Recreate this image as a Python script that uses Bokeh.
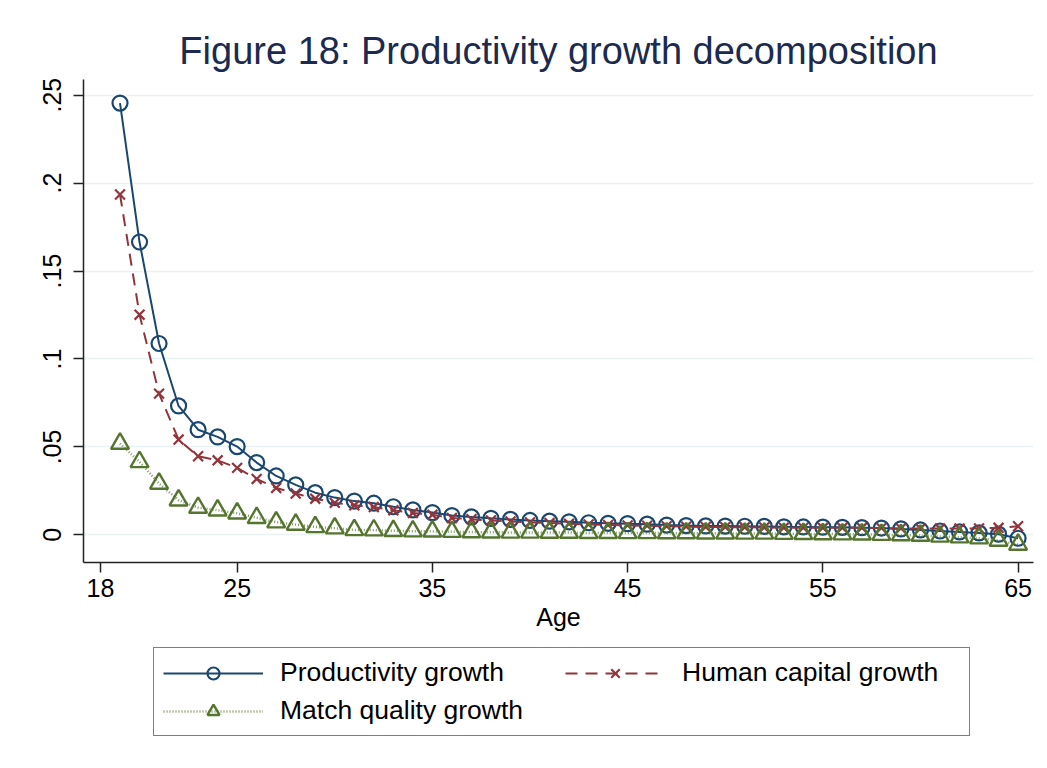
from bokeh.plotting import figure
from bokeh.layouts import column
from bokeh.models import Range1d, FixedTicker, Legend, LegendItem, CustomJSTickFormatter
from bokeh.embed import file_html
from bokeh.resources import INLINE

ages = list(range(19, 66))

productivity = [0.2455, 0.1665, 0.1088, 0.0733, 0.0598, 0.0557, 0.0502, 0.0411, 0.0335, 0.0284,
                0.0240, 0.0212, 0.0192, 0.0180, 0.0160, 0.0142, 0.0127, 0.0110, 0.0102, 0.0094,
                0.0088, 0.0082, 0.0078, 0.0074, 0.0069, 0.0066, 0.0064, 0.0061, 0.0056, 0.0053,
                0.0051, 0.0050, 0.0049, 0.0048, 0.0046, 0.0045, 0.0044, 0.0043, 0.0041, 0.0039,
                0.0034, 0.0028, 0.0022, 0.0017, 0.0011, 0.0004, -0.0019]

human_capital = [0.1935, 0.1252, 0.0803, 0.0542, 0.0447, 0.0424, 0.0381, 0.0318, 0.0267, 0.0235,
                 0.0206, 0.0182, 0.0168, 0.0158, 0.0140, 0.0125, 0.0114, 0.0096, 0.0089, 0.0082,
                 0.0076, 0.0071, 0.0067, 0.0063, 0.0059, 0.0056, 0.0054, 0.0052, 0.0049, 0.0047,
                 0.0045, 0.0044, 0.0043, 0.0042, 0.0041, 0.0041, 0.0040, 0.0040, 0.0040, 0.0039,
                 0.0037, 0.0036, 0.0036, 0.0036, 0.0037, 0.0040, 0.0049]

match_quality = [0.0519, 0.0415, 0.0292, 0.0197, 0.0155, 0.0140, 0.0123, 0.0097, 0.0072, 0.0059,
                 0.0045, 0.0038, 0.0028, 0.0027, 0.0023, 0.0021, 0.0020, 0.0018, 0.0016, 0.0015,
                 0.0014, 0.0014, 0.0013, 0.0013, 0.0012, 0.0012, 0.0011, 0.0011, 0.0010, 0.0010,
                 0.0009, 0.0009, 0.0008, 0.0008, 0.0007, 0.0006, 0.0005, 0.0004, 0.0003, 0.0001,
                 -0.0001, -0.0004, -0.0009, -0.0013, -0.0019, -0.0032, -0.0055]

x_ticks = [18, 25, 35, 45, 55, 65]
y_ticks = [0, 0.05, 0.1, 0.15, 0.2, 0.25]
y_tick_labels = ["0", ".05", ".1", ".15", ".2", ".25"]

series_labels = ["Productivity growth", "Human capital growth", "Match quality growth"]
title_text = "Figure 18: Productivity growth decomposition"
x_label = "Age"

BLUE = "#1a476f"
RED = "#90353b"
GREEN = "#55752f"
FONT = "Liberation Sans"

blue_style = dict(line_color=BLUE, line_width=2)
blue_mark = dict(marker="circle", size=15, fill_color=None, line_color=BLUE, line_width=2.2)
red_style = dict(line_color=RED, line_width=2, line_dash="12 8")
red_mark = dict(marker="x", size=14, line_color=RED, line_width=2.2)
green_style = dict(line_color=GREEN, line_width=2.5, line_dash="1 2", line_alpha=0.75)
green_mark = dict(marker="triangle", size=18, fill_color=None, line_color=GREEN, line_width=2.4)

p = figure(frame_width=950, frame_height=483, output_backend="svg", toolbar_location=None,
           x_range=Range1d(17.13, 65.79), y_range=Range1d(-0.0157, 0.2589),
           min_border_left=83, min_border_right=12, min_border_top=79, min_border_bottom=76)
p.background_fill_color = "white"
p.border_fill_color = "white"
p.outline_line_color = None

p.title.text = title_text
p.title.align = "center"
p.title.offset = -4
p.title.text_font = FONT
p.title.text_font_size = "38px"
p.title.text_font_style = "normal"
p.title.text_color = "#1c2a4f"
p.title.standoff = 16

# series
p.line(ages, productivity, **blue_style)
p.scatter(ages, productivity, **blue_mark)
p.line(ages, human_capital, **red_style)
p.scatter(ages, human_capital, **red_mark)
p.line(ages, match_quality, **green_style)
p.scatter(ages, match_quality, **green_mark)

# axes
for ax in (p.xaxis[0], p.yaxis[0]):
    ax.axis_line_color = "#222222"
    ax.axis_line_width = 1.5
    ax.major_tick_line_color = "#222222"
    ax.major_tick_line_width = 1.5
    ax.major_tick_out = 10
    ax.major_tick_in = 0
    ax.minor_tick_line_color = None
    ax.major_label_text_font = FONT
    ax.major_label_text_font_size = "25px"
    ax.major_label_text_color = "black"

p.xaxis.ticker = FixedTicker(ticks=x_ticks)
p.xaxis.major_label_standoff = 6
p.xaxis.axis_label = x_label
p.xaxis.axis_label_text_font = FONT
p.xaxis.axis_label_text_font_size = "25px"
p.xaxis.axis_label_text_font_style = "normal"
p.xaxis.axis_label_text_color = "black"
p.xaxis.axis_label_standoff = 3

p.yaxis.ticker = FixedTicker(ticks=y_ticks)
p.yaxis.formatter = CustomJSTickFormatter(
    args=dict(yvals=y_ticks, ylabs=y_tick_labels),
    code="""
for (let i = 0; i < yvals.length; i++) {
  if (Math.abs(yvals[i] - tick) < 1e-9) { return ylabs[i]; }
}
return '';
""")
p.yaxis.major_label_orientation = "vertical"
p.yaxis.major_label_standoff = 12

p.xgrid.visible = False
p.ygrid.grid_line_color = "#eaf2f3"
p.ygrid.grid_line_width = 1.5

# legend panel (own figure so the box is not clipped by the plot frame);
# its ranges keep the series themselves out of view, only the key is shown
q = figure(width=1045, height=128, output_backend="svg", toolbar_location=None,
           x_range=Range1d(0, 1), y_range=Range1d(0, 1),
           x_axis_type=None, y_axis_type=None, min_border=0)
q.outline_line_color = None
q.background_fill_color = "white"
q.border_fill_color = "white"
k1l = q.line(ages, productivity, **blue_style)
k1s = q.scatter(ages, productivity, **blue_mark)
k2l = q.line(ages, human_capital, **red_style)
k2s = q.scatter(ages, human_capital, **red_mark)
k3l = q.line(ages, match_quality, **green_style)
k3s = q.scatter(ages, match_quality, **green_mark)

legend = Legend(
    items=[LegendItem(label=series_labels[0], renderers=[k1l, k1s]),
           LegendItem(label=series_labels[1], renderers=[k2l, k2s]),
           LegendItem(label=series_labels[2], renderers=[k3l, k3s])],
    orientation="horizontal", ncols=2, location=(70, 30),
    glyph_width=100, glyph_height=30, label_standoff=17, label_width=278,
    spacing=7, padding=9, margin=0,
    border_line_color="black", border_line_width=1.5,
    label_text_font=FONT, label_text_font_size="26.5px", label_text_color="black",
    background_fill_color="white")
q.add_layout(legend)

layout = column(p, q, spacing=0)
open("out.html", "w").write(file_html(layout, INLINE))
